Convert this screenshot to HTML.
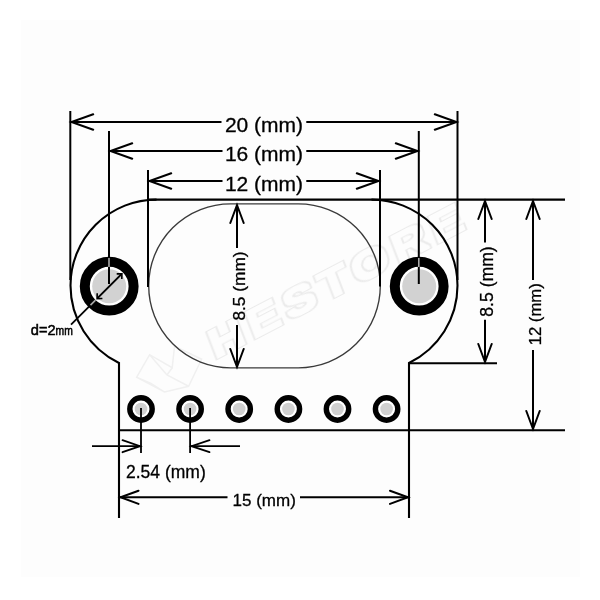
<!DOCTYPE html>
<html lang="en">
<head>
<meta charset="utf-8">
<title>Board dimensions</title>
<style>
html,body{margin:0;padding:0;background:#fff;}
body{width:600px;height:600px;overflow:hidden;}
svg{display:block;will-change:transform;}
text{font-family:"Liberation Sans",Arial,sans-serif;fill:#000;stroke:#000;stroke-width:0.3px;}
.l{stroke:#000;stroke-width:2;fill:none;stroke-linecap:butt;}
.b{stroke:#000;stroke-width:2.1;fill:none;}
.a{stroke:#000;stroke-width:2;fill:none;stroke-linejoin:miter;stroke-linecap:round;}
.t{font-size:21px;}
</style>
</head>
<body>
<svg width="600" height="600" viewBox="0 0 600 600">
<rect width="600" height="600" fill="#fff"/>

<!-- watermark -->
<rect x="21" y="20" width="559" height="557" fill="#fdfdfd"/>
<g transform="translate(215,359) rotate(-27.500)" stroke-linejoin="miter">
<filter id="ol" x="-10%" y="-30%" width="120%" height="160%"><feMorphology in="SourceAlpha" operator="dilate" radius="2.3 2.1" result="o"/><feMorphology in="SourceAlpha" operator="dilate" radius="1 0.8" result="i"/><feComposite in="o" in2="i" operator="out" result="ring"/><feGaussianBlur in="ring" stdDeviation="0.35" result="rb"/><feFlood flood-color="#ebebeb"/><feComposite in2="rb" operator="in"/></filter>
<text x="0" y="0" transform="scale(1.3,1) skewX(-5)" filter="url(#ol)" style="font-size:39px;font-weight:bold;fill:#000;stroke:none;letter-spacing:5px">HESTORE</text>
<path fill="none" stroke="#f0f0f0" stroke-width="1.500" d="M-78 -20 L-56 -34 L-42 -12 L-30 -30 L-12 -6 L-36 12 L-60 6 Z M-56 -34 L-50 -8 L-36 12 M-50 -8 L-42 -12 M-78 -20 L-68 -8 L-60 6"/>
</g>

<!-- inner oval -->
<rect x="148.7" y="203.8" width="231.6" height="164" rx="82" ry="82" fill="none" stroke="#3a3a3a" stroke-width="1.35"/>

<!-- board outline -->
<path class="b" d="M148 199.600 H565"/>
<path class="b" d="M156.500 199.600 A86 86 0 0 0 70.500 285.600 A86 86 0 0 0 119 363 V518"/>
<path class="b" d="M371.500 199.600 A86 86 0 0 1 457.500 285.600 A86 86 0 0 1 409 363 V518"/>
<path class="b" d="M409 363.300 H497"/>
<path class="b" d="M119 430.300 H565"/>

<!-- extension lines -->
<path class="l" d="M70.3 111 V280"/>
<path class="l" d="M109 131 V260"/>
<path class="l" d="M148 170 V287"/>
<path class="l" d="M457.5 111 V280"/>
<path class="l" d="M418.800 131 V260"/>
<path class="l" d="M380 170 V286.500"/>

<!-- big holes -->
<g>
<circle cx="109.2" cy="286.2" r="24.400" fill="#fff" stroke="#000" stroke-width="10"/>
<circle cx="109.2" cy="286.2" r="17" fill="#d2d2d2"/>
<circle cx="419.2" cy="286.2" r="24.400" fill="#fff" stroke="#000" stroke-width="10"/>
<circle cx="419.2" cy="286.2" r="17" fill="#d2d2d2"/>
</g>
<path d="M109 266 V284" stroke="#000" stroke-width="2"/>
<path d="M418.800 266 V284" stroke="#000" stroke-width="2"/>
<path d="M109 258 V267" stroke="#aaa" stroke-width="1.6"/>
<path d="M418.800 258 V267" stroke="#aaa" stroke-width="1.6"/>

<!-- small holes -->
<g fill="#fff" stroke="#000" stroke-width="5.4">
<circle cx="141" cy="409" r="11.2"/>
<circle cx="190.1" cy="409" r="11.2"/>
<circle cx="239.2" cy="409" r="11.2"/>
<circle cx="288.4" cy="409" r="11.2"/>
<circle cx="337.5" cy="409" r="11.2"/>
<circle cx="386.6" cy="409" r="11.2"/>
</g>
<g fill="#d0d0d0">
<circle cx="141" cy="409" r="6.3"/>
<circle cx="190.1" cy="409" r="6.3"/>
<circle cx="239.2" cy="409" r="6.3"/>
<circle cx="288.4" cy="409" r="6.3"/>
<circle cx="337.5" cy="409" r="6.3"/>
<circle cx="386.6" cy="409" r="6.3"/>
</g>
<path class="l" d="M141 408 V453 M190.1 408 V453" style="stroke-width:1.8"/>

<!-- dim lines horizontal -->
<path class="l" d="M70 122 H221.500 M306.300 122 H457"/>
<path class="a" d="M93.200 114.300 L71.500 122 L93.200 129.700 M434.800 114.300 L456.500 122 L434.800 129.700"/>
<path class="l" d="M109 151 H222.500 M306.300 151 H418"/>
<path class="a" d="M132.200 143.300 L110.500 151 L132.200 158.700 M395.800 143.300 L417.500 151 L395.800 158.700"/>
<path class="l" d="M148 181 H222.500 M306.300 181 H380"/>
<path class="a" d="M171.200 173.300 L149.500 181 L171.200 188.700 M356.800 173.300 L378.500 181 L356.800 188.700"/>
<text class="t" x="264" y="132.200" text-anchor="middle">20 (mm)</text>
<text class="t" x="264" y="160.800" text-anchor="middle">16 (mm)</text>
<text class="t" x="264" y="191" text-anchor="middle">12 (mm)</text>

<!-- 15 mm -->
<path class="l" d="M119 497.300 H227.500 M300 497.300 H409"/>
<path class="a" d="M138.500 490.700 L120.500 497.300 L138.500 503.900 M390 490.700 L408 497.300 L390 503.900"/>
<text class="t" x="264.200" y="505.800" text-anchor="middle" style="font-size:17px">15 (mm)</text>

<!-- 2.54 -->
<path class="l" d="M92 446.200 H140 M190 446.200 H240" style="stroke-width:1.8"/>
<path class="a" d="M122.500 440.200 L140 446.200 L122.500 452.200 M209.500 440.200 L191.500 446.200 L209.500 452.200" style="stroke-width:1.8"/>
<text x="126" y="478.200" style="font-size:17.500px">2.54 (mm)</text>

<!-- vertical dims -->
<path class="l" d="M237 206 V248 M237 325 V366"/>
<path class="a" d="M230.300 223 L237 205 L243.700 223 M230.300 349 L237 367 L243.700 349"/>
<text class="t" transform="translate(244.500,286) rotate(-90)" text-anchor="middle" style="font-size:17.300px">8.5 (mm)</text>

<path class="l" d="M485 201 V242.500 M485 319.800 V361"/>
<path class="a" d="M478.300 219 L485 201 L491.700 219 M478.300 344 L485 362 L491.700 344"/>
<text class="t" transform="translate(493,281.500) rotate(-90)" text-anchor="middle" style="font-size:17.600px">8.5 (mm)</text>

<path class="l" d="M533 201 V280 M533 350 V429"/>
<path class="a" d="M526.300 219 L533 201 L539.700 219 M526.300 411 L533 429 L539.700 411"/>
<text class="t" transform="translate(541,314.300) rotate(-90)" text-anchor="middle" style="font-size:16.700px">12 (mm)</text>

<!-- d=2mm -->
<path d="M71 324.600 L89 306.600" stroke="#000" stroke-width="1.8" fill="none"/>
<path d="M90.500 305.100 L95.500 300.100" stroke="#aaa" stroke-width="1.6" fill="none"/>
<path d="M97.500 298.200 L121.500 274.200" stroke="#000" stroke-width="1.9" fill="none"/>
<path d="M116.700 273.900 L121.900 273.800 L121.800 279 M97.200 293.300 L97.100 298.600 L102.400 298.500" stroke="#000" stroke-width="1.6" fill="none"/>
<text x="30.800" y="335.300" style="font-size:14.600px;stroke-width:0.5px">d=2<tspan style="font-size:13.400px;stroke-width:0.6px" textLength="17.2" lengthAdjust="spacingAndGlyphs">mm</tspan></text>
</svg>
</body>
</html>
